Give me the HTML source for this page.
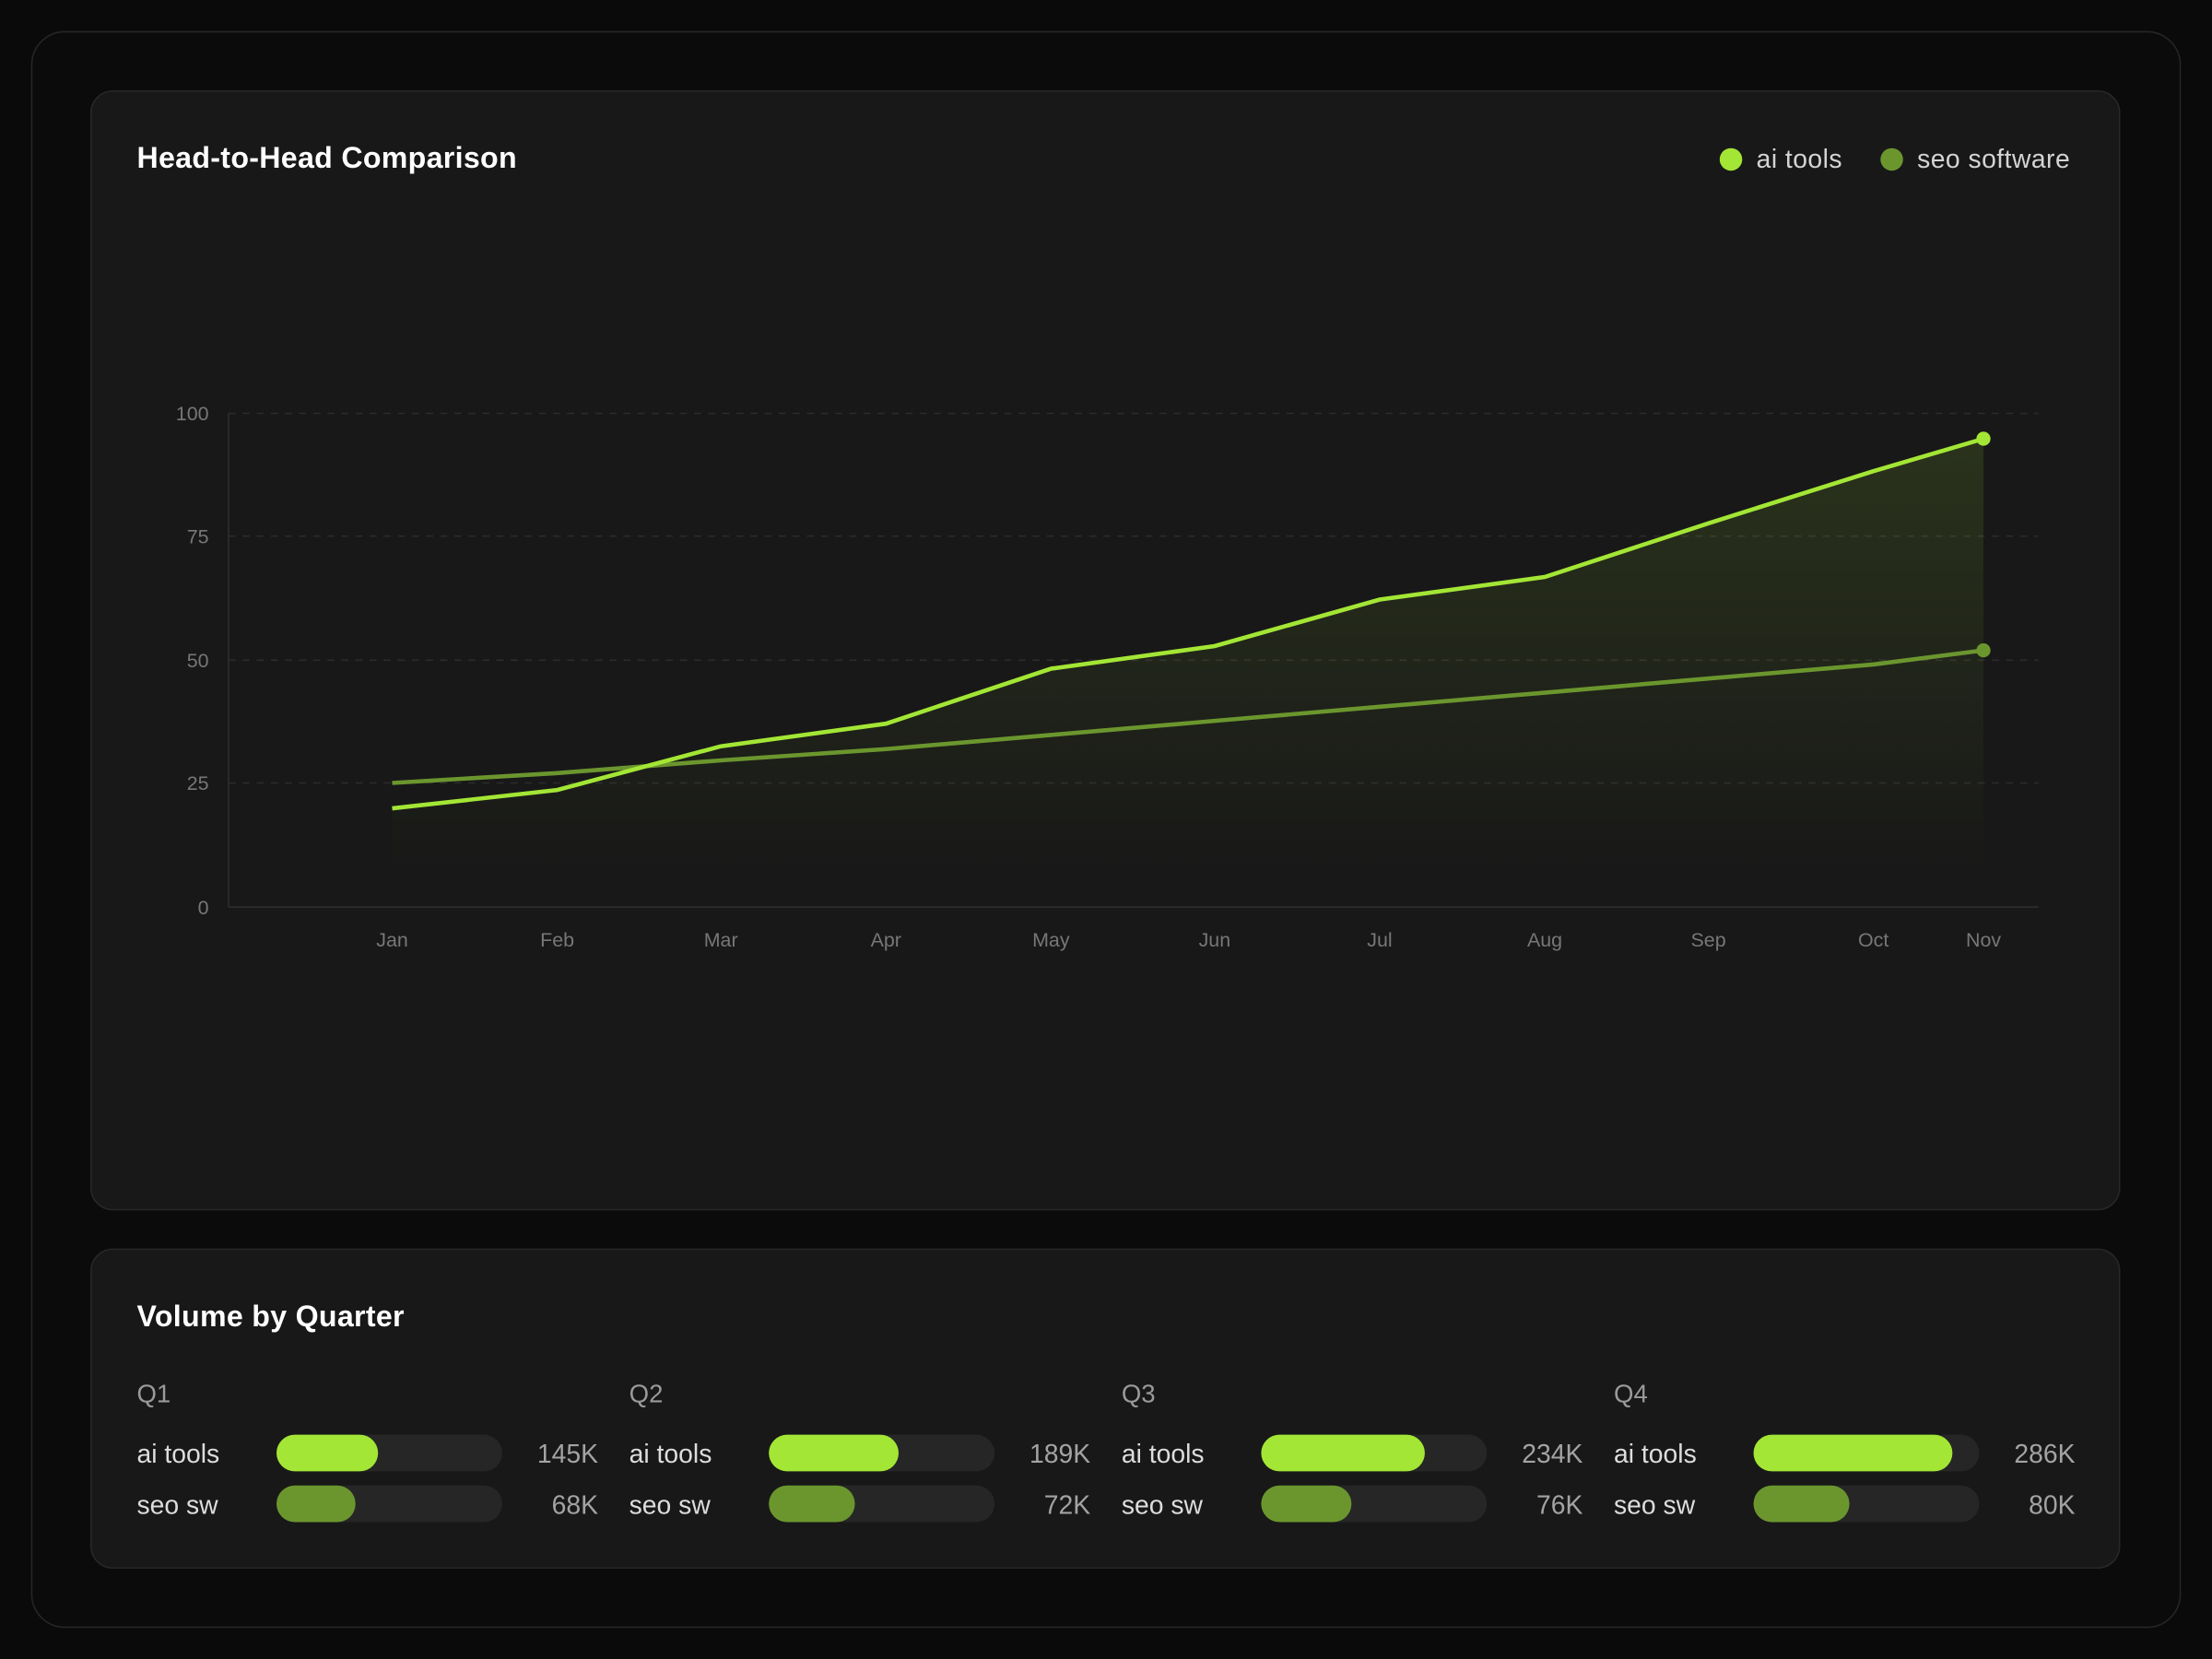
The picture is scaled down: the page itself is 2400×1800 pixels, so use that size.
<!DOCTYPE html>
<html><head><meta charset="utf-8"><style>
html,body{margin:0;padding:0;background:#0a0a0a;width:2400px;height:1800px;overflow:hidden}
#s{position:absolute;left:0;top:0;width:1568px;height:1176px;transform:scale(1.530612);transform-origin:0 0;font-family:"Liberation Sans",sans-serif}
.outer{position:absolute;left:22px;top:22px;width:1522px;height:1130px;border:1px solid #262626;border-radius:24px;background:#0b0b0b}
.card{position:absolute;left:64px;width:1437px;border:1px solid #282828;border-radius:16px;background:#181818}
.t{position:absolute;color:#fff;font-weight:bold;font-size:21px;letter-spacing:0.2px}
.lg{position:absolute;top:102px;color:#d4d4d4;font-size:18.5px;letter-spacing:0.3px}
.dot{position:absolute;width:16px;height:16px;border-radius:8px}
.q{position:absolute;color:#9a9a9a;font-size:18px}
.lab{position:absolute;color:#ddd;font-size:18.5px}
.trk{position:absolute;width:160px;height:26px;border-radius:13px;background:#262626}
.fill{position:absolute;left:0;top:0;height:26px;border-radius:13px}
.val{position:absolute;color:#a3a3a3;font-size:18.5px;text-align:right;width:80px}
</style></head><body><div id="s">
<div class="outer"></div>
<div class="card" style="top:64px;height:792px"></div>
<div class="t" style="left:97px;top:101px">Head-to-Head Comparison</div>
<div class="dot" style="left:1219px;top:105px;background:#a3e635"></div>
<div class="lg" style="left:1245px">ai tools</div>
<div class="dot" style="left:1333px;top:105px;background:#6b962e"></div>
<div class="lg" style="left:1359px">seo software</div>
<svg style="position:absolute;left:0;top:0" width="1568" height="900">
<defs><linearGradient id="g" x1="0" y1="0" x2="0" y2="1"><stop offset="0" stop-color="#a3e635" stop-opacity="0.13"/><stop offset="1" stop-color="#a3e635" stop-opacity="0"/></linearGradient></defs>
<g stroke="#2c2c2c" stroke-dasharray="5 5" stroke-width="1">
<line x1="162" y1="293" x2="1445" y2="293"/><line x1="162" y1="380" x2="1445" y2="380"/><line x1="162" y1="468" x2="1445" y2="468"/><line x1="162" y1="555" x2="1445" y2="555"/></g>
<line x1="162" y1="643" x2="1445" y2="643" stroke="#2e2e2e"/><line x1="162" y1="293" x2="162" y2="643" stroke="#2e2e2e"/>
<g fill="#777" font-size="14" text-anchor="end" font-family="Liberation Sans"><text x="148" y="298">100</text><text x="148" y="385">75</text><text x="148" y="473">50</text><text x="148" y="560">25</text><text x="148" y="648">0</text></g>
<g fill="#777" font-size="14" text-anchor="middle" font-family="Liberation Sans"><text x="278" y="671">Jan</text><text x="395" y="671">Feb</text><text x="511" y="671">Mar</text><text x="628" y="671">Apr</text><text x="745" y="671">May</text><text x="861" y="671">Jun</text><text x="978" y="671">Jul</text><text x="1095" y="671">Aug</text><text x="1211" y="671">Sep</text><text x="1328" y="671">Oct</text><text x="1406" y="671">Nov</text></g>
<path d="M278,573 L395,560 L511,529 L628,513 L745,474 L861,458 L978,425 L1095,409 L1211,371 L1328,334 L1406,311 L1406,620 L278,620Z" fill="url(#g)"/>
<polyline points="278,555 395,548 511,539 628,531 745,521 861,511 978,501 1095,491 1211,481 1328,471 1406,461" fill="none" stroke="#6b962e" stroke-width="3"/>
<polyline points="278,573 395,560 511,529 628,513 745,474 861,458 978,425 1095,409 1211,371 1328,334 1406,311" fill="none" stroke="#a3e635" stroke-width="3"/>
<circle cx="1406" cy="311" r="5" fill="#a3e635"/><circle cx="1406" cy="461" r="5" fill="#6b962e"/>
</svg>
<div class="card" style="top:885px;height:225px"></div>
<div class="t" style="left:97px;top:922px">Volume by Quarter</div>
<div id="qs"></div>
<script>
var d=[["Q1",72,56,"145K","68K"],["Q2",92,61,"189K","72K"],["Q3",116,64,"234K","76K"],["Q4",141,68,"286K","80K"]],h="";
d.forEach(function(q,i){var x=97+349*i;
h+='<div class="q" style="left:'+x+'px;top:978px">'+q[0]+'</div>';
h+='<div class="lab" style="left:'+x+'px;top:1020px">ai tools</div><div class="lab" style="left:'+x+'px;top:1056px">seo sw</div>';
h+='<div class="trk" style="left:'+(x+99)+'px;top:1017px"><div class="fill" style="width:'+q[1]+'px;background:#a3e635"></div></div>';
h+='<div class="trk" style="left:'+(x+99)+'px;top:1053px"><div class="fill" style="width:'+q[2]+'px;background:#6b962e"></div></div>';
h+='<div class="val" style="left:'+(x+247)+'px;top:1020px">'+q[3]+'</div><div class="val" style="left:'+(x+247)+'px;top:1056px">'+q[4]+'</div>';});
document.getElementById("qs").innerHTML=h;
</script>
</div></body></html>
